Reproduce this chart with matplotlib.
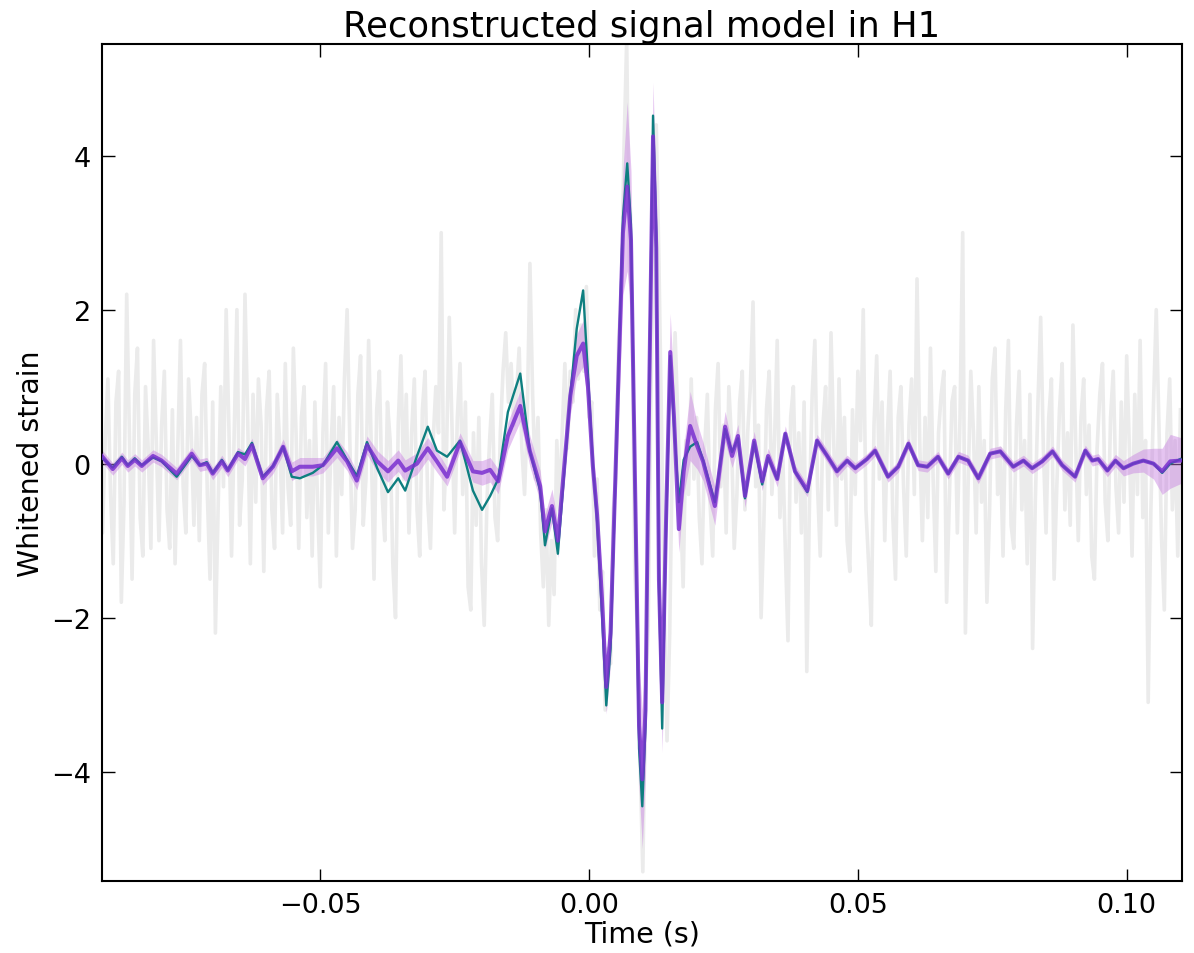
import numpy as np
import matplotlib
matplotlib.use("Agg")
import matplotlib.pyplot as plt

# ---------------- data ----------------
# whitened strain data (grey), sampled every 0.5 ms from -91 ms to 110 ms
noise_t0_ms = -91.0
noise_dt_ms = 0.5
noise_strain = [
    0.6, -0.9, 0.3, 1.1, -0.4, -1.3, 0.8, 1.2, -1.8, -0.5, 2.2, 0.4, -1.5, 0.9, 1.5, -0.7, -1.2, 1.0, 0.2, -1.1,
    1.6, 0.3, -1.0, 0.5, 1.2, -0.6, -1.1, 0.7, -1.3, 0.2, 1.6, -0.3, -0.9, 1.1, 0.4, -0.8, 0.6, -1.0, 0.9, 1.3,
    -0.4, -1.5, 0.8, -2.2, -0.6, 1.0, -0.3, 2.0, 0.5, -1.2, 0.4, 2.0, -0.8, -0.2, 2.2, 0.6, -1.3, 0.9, -0.5, 1.1,
    0.5, -1.4, 0.7, 1.2, -0.6, -1.1, 0.9, 0.2, -0.9, 1.3, -0.3, -0.8, 1.5, 0.4, -1.1, 0.6, 1.0, -0.7, 0.3, -1.2,
    0.8, -0.5, -1.6, 0.4, 1.3, -0.9, 0.2, 1.0, -1.2, 0.6, -0.4, 1.1, 2.0, 0.3, -1.1, -0.6, 0.9, 1.4, -0.8, -0.2,
    1.6, 0.2, -1.5, 0.7, 1.2, -0.4, -1.0, 0.8, 0.3, -1.3, -2.0, 0.5, 1.4, -0.2, 0.9, -0.9, 0.4, 1.1, -0.6, -1.2,
    0.7, 1.2, -0.5, -1.1, 0.3, 1.0, 0.4, 3.0, -0.6, 0.2, 1.9, 0.5, -0.9, 0.6, 1.3, -0.4, 0.8, -1.6, -1.9, 0.4,
    -0.8, 0.6, -1.3, -2.1, -0.5, 0.3, 0.9, -0.7, -1.0, 0.4, 1.2, 1.7, 0.8, 1.3, 0.5, 0.9, 1.5, 0.2, -0.4, 0.6,
    2.6, 0.9, -0.2, 0.6, -0.9, -1.6, -0.6, -2.1, -1.0, -1.7, 0.3, -0.6, 0.4, 1.3, 0.2, 1.2, 0.8, 2.0, 1.1, 1.8,
    1.2, 2.3, 0.6, 0.8, -1.2, -0.2, -1.9, -1.4, -3.2, -2.4, -2.6, -0.6, -0.2, 1.6, 2.2, 4.1, 5.5, 2.6, 2.0, -1.4,
    -2.2, -3.9, -5.3, -3.0, -2.1, 0.9, 2.8, 4.4, 2.6, 0.4, -1.9, -3.6, -2.2, 0.2, 1.7, 0.6, -0.5, -1.6, 0.3, -0.4,
    1.1, -0.2, 0.6, -0.7, -1.3, 0.2, 0.9, -0.5, -1.2, 0.7, 1.3, -0.3, 0.5, -0.9, 1.0, 0.3, -1.1, -0.4, 0.8, 1.2,
    -0.6, 0.4, 1.0, 2.1, -0.3, 0.5, -2.0, -0.8, 0.7, 1.2, -0.4, 0.3, 1.6, -0.7, 0.2, -1.1, -2.3, 0.6, 1.0, -0.5,
    0.4, -0.9, 0.8, -2.7, -0.5, 0.9, 1.6, -0.3, -1.2, 0.5, 1.0, -0.6, 1.7, 0.3, -0.8, 1.1, -0.2, 0.6, -1.0, -1.4,
    0.7, -0.4, 1.2, 0.3, 2.0, -0.6, -1.3, -2.1, 0.5, 1.4, -0.2, 0.8, -1.0, 0.4, 1.2, -0.7, -1.5, 0.6, 1.0, -0.3,
    -1.2, 0.5, 1.1, -0.4, 2.4, 0.3, -1.0, 0.6, -0.7, 1.5, -0.2, -1.4, 0.4, 0.9, 1.2, -1.8, -0.5, 0.8, 1.0, -0.9,
    0.6, 3.0, -2.2, -0.3, 1.2, 0.4, -0.9, 1.0, -0.5, 0.3, -1.8, -0.6, 1.1, 1.5, -0.4, 0.2, -1.2, 0.7, 1.6, -0.8,
    -1.1, 0.5, 1.2, -0.6, 0.3, -1.3, 0.9, -2.4, -0.5, 0.8, 1.9, 0.2, -0.9, 0.6, 1.1, -1.5, -0.3, 0.7, 1.3, -0.6,
    0.4, -0.8, 1.8, 0.3, -1.0, 0.6, 1.1, -0.4, 0.5, -1.2, -1.5, 0.2, 0.9, 1.3, -0.5, -1.0, 0.6, 1.2, -0.3, -0.9,
    0.8, -0.5, 1.4, 0.2, -1.2, 0.9, -0.4, 1.6, -0.7, 0.3, -3.1, -0.6, 0.8, 2.0, 0.5, -1.0, -1.9, 0.4, 1.1, -0.6,
    0.3, -1.2, 0.7,
]

# reconstructed waveforms (times in ms)
model_t_ms = [
    -91.0, -88.6, -86.9, -85.8, -84.5, -83.2, -81.1, -79.5, -76.7, -73.9,
    -72.4, -71.1, -70.0, -68.3, -67.2, -65.3, -64.0, -62.7, -60.7, -58.8,
    -56.9, -55.3, -53.8, -51.4, -49.5, -46.9, -45.0, -43.2, -41.3, -39.4,
    -37.4, -35.5, -34.2, -32.0, -30.0, -28.3, -26.4, -24.0, -21.6, -19.9,
    -18.4, -16.9, -15.1, -12.8, -11.0, -9.1, -8.2, -6.9, -5.8, -3.5,
    -2.3, -1.1, -0.2, 0.7, 1.5, 2.4, 3.2, 4.0, 5.1, 6.3,
    7.1, 7.8, 8.6, 9.3, 9.9, 10.5, 11.2, 11.9, 12.5, 13.0,
    13.6, 14.3, 15.1, 15.8, 16.7, 17.6, 18.8, 20.1, 21.2, 23.4,
    25.3, 26.6, 27.7, 29.0, 30.7, 32.2, 33.3, 35.0, 36.5, 38.3,
    40.6, 42.4, 44.3, 46.1, 48.0, 49.5, 51.7, 53.2, 55.6, 57.5,
    59.4, 61.2, 62.9, 64.9, 66.8, 68.7, 70.5, 72.4, 74.6, 76.5,
    78.9, 80.8, 82.4, 84.3, 86.2, 88.0, 90.4, 92.3, 93.6, 94.7,
    96.4, 97.9, 99.4, 101.2, 103.1, 105.0, 106.6, 108.1, 110.0,
]
model_strain = [
    0.13, -0.07, 0.07, -0.03, 0.05, -0.03, 0.10, 0.04, -0.13, 0.13,
    -0.02, 0.00, -0.13, 0.03, -0.09, 0.13, 0.06, 0.24, -0.19, -0.04,
    0.22, -0.10, -0.04, -0.04, -0.02, 0.20, 0.03, -0.22, 0.24, 0.03,
    -0.10, 0.04, -0.09, 0.00, 0.20, 0.03, -0.17, 0.28, -0.10, -0.12,
    -0.08, -0.23, 0.36, 0.75, 0.16, -0.29, -0.88, -0.55, -1.00, 0.88,
    1.40, 1.56, 1.00, -0.03, -0.67, -1.75, -2.90, -2.20, 0.30, 3.00,
    3.60, 2.90, -0.50, -3.40, -4.10, -3.20, 1.00, 4.25, 2.80, -1.50,
    -3.10, -0.80, 1.45, 0.60, -0.85, -0.10, 0.49, 0.23, 0.03, -0.55,
    0.48, 0.10, 0.36, -0.42, 0.30, -0.23, 0.10, -0.20, 0.39, -0.10,
    -0.35, 0.30, 0.10, -0.10, 0.04, -0.06, 0.06, 0.17, -0.17, -0.04,
    0.26, -0.02, -0.04, 0.09, -0.13, 0.09, 0.04, -0.19, 0.13, 0.16,
    -0.04, 0.04, -0.06, 0.03, 0.16, -0.02, -0.17, 0.17, 0.04, 0.06,
    -0.09, 0.04, -0.06, 0.00, 0.04, 0.00, -0.10, 0.03, 0.04,
]
recon_strain = [
    0.10, -0.05, 0.09, -0.02, 0.07, -0.02, 0.08, 0.03, -0.17, 0.10,
    -0.02, 0.02, -0.12, 0.05, -0.08, 0.15, 0.12, 0.27, -0.17, -0.03,
    0.22, -0.17, -0.19, -0.12, -0.02, 0.28, 0.05, -0.16, 0.28, -0.06,
    -0.37, -0.19, -0.35, 0.10, 0.48, 0.17, 0.09, 0.30, -0.35, -0.60,
    -0.42, -0.20, 0.67, 1.17, 0.16, -0.35, -1.06, -0.58, -1.17, 0.88,
    1.75, 2.25, 1.15, 0.00, -0.75, -1.95, -3.14, -2.40, 0.30, 3.20,
    3.90, 3.10, -0.60, -3.70, -4.45, -3.40, 1.10, 4.52, 3.00, -1.60,
    -3.44, -0.90, 1.40, 0.50, -0.50, 0.05, 0.22, 0.28, 0.05, -0.50,
    0.45, 0.15, 0.33, -0.45, 0.28, -0.27, 0.08, -0.20, 0.39, -0.10,
    -0.37, 0.30, 0.10, -0.10, 0.04, -0.06, 0.06, 0.17, -0.17, -0.04,
    0.26, -0.02, -0.04, 0.09, -0.13, 0.09, 0.04, -0.19, 0.13, 0.16,
    -0.04, 0.04, -0.06, 0.03, 0.16, -0.02, -0.17, 0.17, 0.04, 0.06,
    -0.09, 0.04, -0.06, 0.00, 0.04, 0.00, -0.12, 0.00, 0.06,
]
band_half = [
    0.08, 0.08, 0.08, 0.08, 0.08, 0.08, 0.08, 0.08, 0.08, 0.08,
    0.08, 0.08, 0.08, 0.08, 0.08, 0.08, 0.09, 0.09, 0.09, 0.09,
    0.10, 0.12, 0.12, 0.12, 0.10, 0.12, 0.12, 0.12, 0.12, 0.14,
    0.14, 0.14, 0.14, 0.14, 0.14, 0.14, 0.12, 0.12, 0.14, 0.16,
    0.16, 0.16, 0.18, 0.20, 0.20, 0.20, 0.22, 0.22, 0.22, 0.25,
    0.28, 0.30, 0.30, 0.25, 0.25, 0.30, 0.35, 0.40, 0.50, 0.80,
    1.10, 0.90, 0.60, 0.80, 0.90, 0.80, 0.60, 0.70, 0.60, 0.50,
    0.65, 0.50, 0.50, 0.35, 0.30, 0.30, 0.45, 0.30, 0.25, 0.25,
    0.20, 0.15, 0.15, 0.15, 0.12, 0.12, 0.10, 0.10, 0.10, 0.08,
    0.08, 0.08, 0.08, 0.08, 0.07, 0.07, 0.07, 0.07, 0.07, 0.07,
    0.07, 0.07, 0.07, 0.07, 0.07, 0.07, 0.07, 0.07, 0.07, 0.07,
    0.07, 0.07, 0.07, 0.07, 0.07, 0.07, 0.07, 0.07, 0.07, 0.07,
    0.08, 0.08, 0.10, 0.12, 0.15, 0.20, 0.30, 0.35, 0.30,
]

title = "Reconstructed signal model in H1"
xlabel = "Time (s)"
ylabel = "Whitened strain"
x_ticks = [-0.05, 0.00, 0.05, 0.10]
y_ticks = [-4, -2, 0, 2, 4]

# ---------------- plotting ----------------
noise = np.array(noise_strain)
t_noise = (noise_t0_ms + noise_dt_ms * np.arange(len(noise))) / 1000.0
t_model = np.array(model_t_ms) / 1000.0
model = np.array(model_strain)
recon = np.array(recon_strain)
half = np.array(band_half)

fig = plt.figure(figsize=(11.94, 9.54), dpi=100)
ax = fig.add_axes([0.0854, 0.0755, 0.9046, 0.8773])

ax.plot(t_noise, noise, color="#ebebeb", lw=2.6, zorder=1,
        solid_joinstyle="round")
ax.fill_between(t_model, model - half, model + half, color="#c77ee0",
                alpha=0.45, lw=0, zorder=2)
ax.plot(t_model, recon, color="#0e7f80", lw=1.7, zorder=3,
        solid_joinstyle="round")
ax.plot(t_model, model, color="#7a30d0", lw=2.9, alpha=0.85, zorder=4,
        solid_joinstyle="round")

ax.set_xlim(-0.0906, 0.1103)
ax.set_ylim(-5.42, 5.45)
ax.set_xticks(x_ticks)
ax.set_xticklabels([f"{v:.2f}".replace("-", "\u2212") for v in x_ticks])
ax.set_yticks(y_ticks)
ax.set_yticklabels([str(v).replace("-", "\u2212") for v in y_ticks])
ax.tick_params(direction="in", length=9, width=1.0, top=True, right=True,
               labelsize=19.5, pad=8, colors="black")
for s in ax.spines.values():
    s.set_linewidth(1.5)

ax.set_title(title, fontsize=25.5, pad=6)
ax.set_xlabel(xlabel, fontsize=20.5, labelpad=1)
ax.set_ylabel(ylabel, fontsize=20.5, labelpad=4)

fig.savefig("out.png", dpi=100)
